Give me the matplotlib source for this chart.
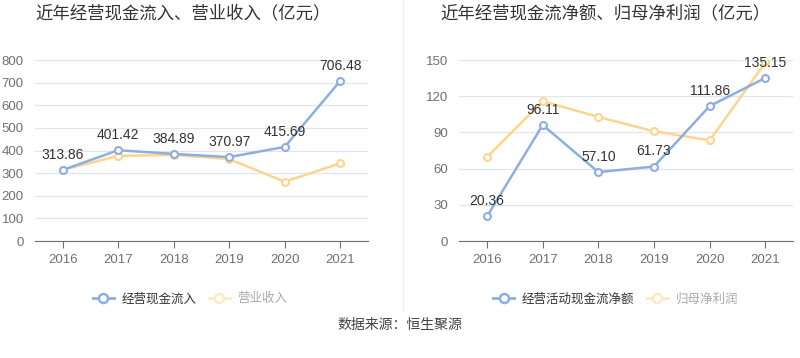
import matplotlib
matplotlib.use('Agg')
import matplotlib.pyplot as plt
from matplotlib.lines import Line2D

plt.rcParams['font.family'] = ['Noto Sans CJK SC', 'DejaVu Sans']

years = ['2016', '2017', '2018', '2019', '2020', '2021']

# left chart
cash_in = [313.86, 401.42, 384.89, 370.97, 415.69, 706.48]
revenue = [315, 376, 381, 362, 262, 343]
# right chart
cash_net = [20.36, 96.11, 57.10, 61.73, 111.86, 135.15]
net_profit = [69.6, 115.8, 102.8, 90.9, 83.4, 148.0]

blue = '#8eaee0'
yellow = '#fdd58f'
num_font = 'Liberation Sans'

fig = plt.figure(figsize=(8, 3.58), dpi=100)


def draw(ax, s1, s2, ymax, step):
    x = list(range(len(years)))
    ax.set_xlim(-0.5, len(years) - 0.5)
    ax.set_ylim(0, ymax)
    ax.set_yticks(range(0, ymax + 1, step))
    ax.grid(axis='y', color='#e0e6f1', linewidth=0.9)
    ax.set_axisbelow(True)
    for s in ['top', 'right', 'left']:
        ax.spines[s].set_visible(False)
    ax.spines['bottom'].set_color('#6e7079')
    ax.tick_params(axis='y', length=0, pad=8, labelsize=9.5, labelcolor='#6e7079')
    ax.tick_params(axis='x', length=5, color='#6e7079', pad=4, labelsize=9.5, labelcolor='#6e7079')
    ax.set_xticks(x)
    ax.set_xticklabels(years)
    for lab in ax.get_xticklabels() + ax.get_yticklabels():
        lab.set_fontfamily(num_font)
    ax.plot(x, s2, color=yellow, lw=1.8, marker='o', ms=5, mfc='white', mec=yellow, mew=1.5, zorder=3)
    ax.plot(x, s1, color=blue, lw=1.8, marker='o', ms=5, mfc='white', mec=blue, mew=1.5, zorder=4)
    for xi, v in zip(x, s1):
        ax.annotate(f'{v:.2f}', (xi, v), xytext=(0, 6), textcoords='offset points',
                    ha='center', va='bottom', fontsize=10, color='#333333',
                    family=num_font, zorder=5)


ax1 = fig.add_axes([0.04375, 0.3268, 0.416, 0.5056])
draw(ax1, cash_in, revenue, 800, 100)
ax2 = fig.add_axes([0.574, 0.3268, 0.4175, 0.5056])
draw(ax2, cash_net, net_profit, 150, 30)

fig.text(0.229, 0.962, '近年经营现金流入、营业收入（亿元）', ha='center', va='center', fontsize=12.5, color='#333333')
fig.text(0.757, 0.962, '近年经营现金流净额、归母净利润（亿元）', ha='center', va='center', fontsize=12.5, color='#333333')

# separator
fig.add_artist(Line2D([0.504, 0.504], [0.135, 1.0], color='#eeeeee', lw=1))


def legend(ax, l1, l2, xc):
    h1 = Line2D([], [], color=blue, lw=2, marker='o', ms=6.5, mfc='white', mec=blue, mew=1.8)
    h2 = Line2D([], [], color='#fee9c7', lw=2, marker='o', ms=6.5, mfc='white', mec='#fee9c7', mew=1.8)
    leg = ax.legend([h1, h2], [l1, l2], loc='center', bbox_to_anchor=(xc, -0.32),
                    ncol=2, frameon=False, fontsize=9, handlelength=1.7,
                    handletextpad=0.6, columnspacing=1.0)
    leg.get_texts()[0].set_color('#333333')
    leg.get_texts()[1].set_color('#aaaaaa')


legend(ax1, '经营现金流入', '营业收入', 0.466)
legend(ax2, '经营活动现金流净额', '归母净利润', 0.468)

fig.text(0.5, 0.092, '数据来源：恒生聚源', ha='center', va='center', fontsize=10, color='#444444')

fig.savefig('out.png', dpi=100)
